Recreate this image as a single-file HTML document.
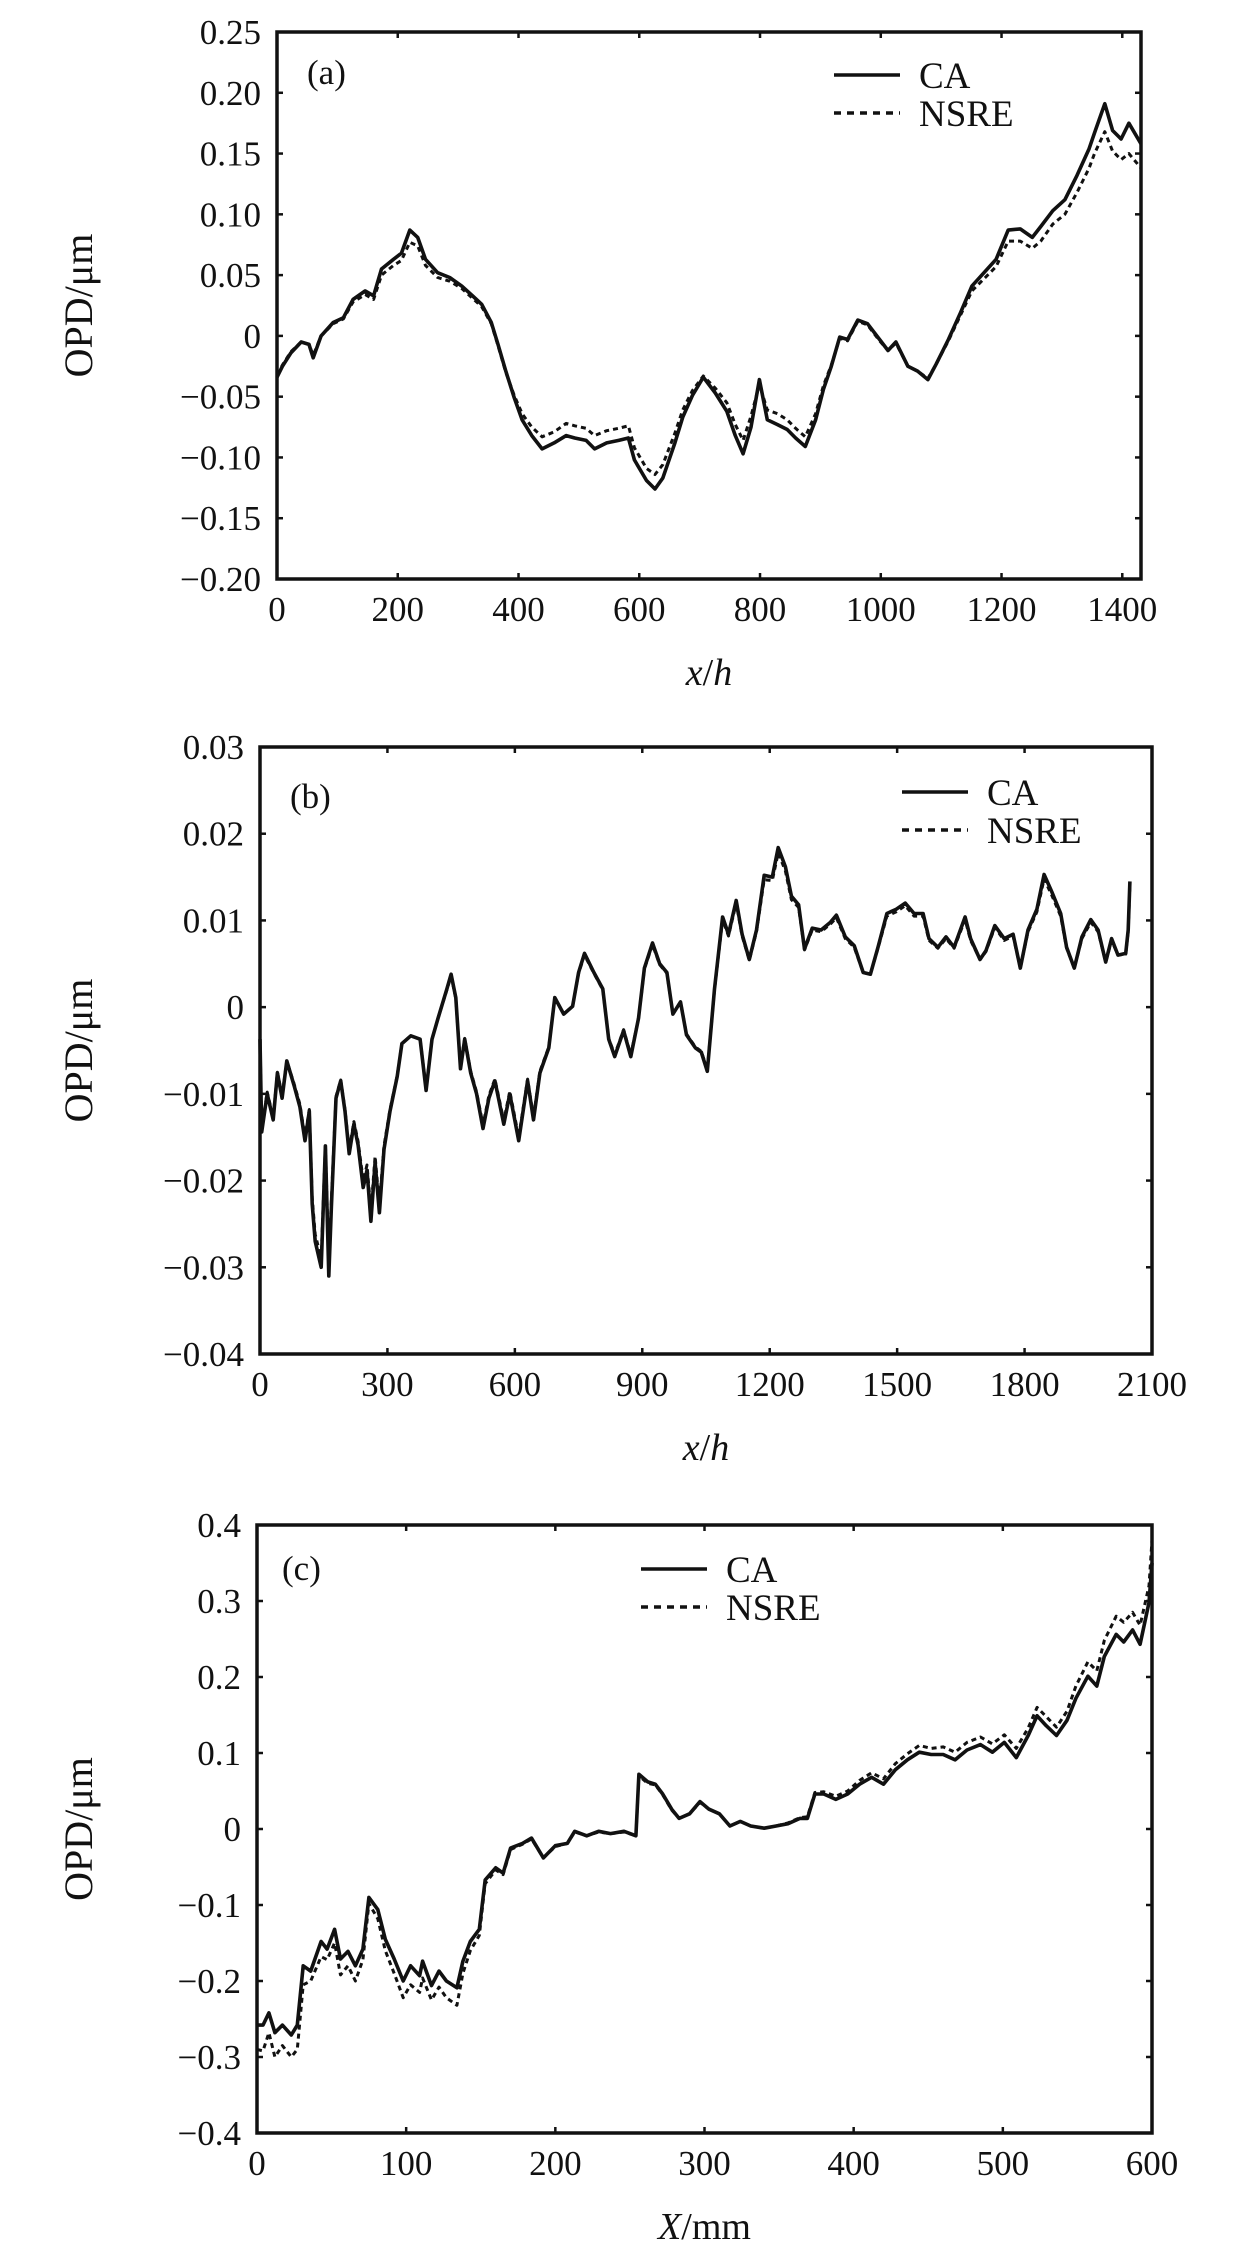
<!DOCTYPE html>
<html><head><meta charset="utf-8"><style>
html,body{margin:0;padding:0;background:#fff;}
svg{display:block;}
text{font-family:"Liberation Serif",serif;fill:#111;}
</style></head><body>
<svg id="fig" width="1260" height="2252" viewBox="0 0 1260 2252" xmlns="http://www.w3.org/2000/svg"></svg>
<script>
// ---- Panel (a) data ----
const aCaX = [0,9,23,40,53,60,73,93,110,126,146,160,173,193,206,220,233,246,266,286,306,326,339,355,366,379,393,406,422,439,459,479,493,512,526,546,566,582,592,612,626,639,659,672,688,706,726,745,759,772,785,799,812,829,845,859,875,892,905,918,932,945,962,978,998,1012,1025,1045,1061,1078,1092,1112,1132,1151,1171,1191,1211,1231,1251,1265,1285,1305,1325,1345,1354,1371,1384,1398,1411,1431];
const aCaY = [-0.034,-0.025,-0.014,-0.005,-0.007,-0.018,0.000,0.011,0.015,0.030,0.037,0.033,0.055,0.063,0.068,0.087,0.081,0.063,0.052,0.048,0.041,0.032,0.026,0.011,-0.007,-0.029,-0.051,-0.069,-0.082,-0.093,-0.088,-0.082,-0.084,-0.086,-0.093,-0.088,-0.086,-0.084,-0.102,-0.119,-0.126,-0.117,-0.088,-0.067,-0.049,-0.034,-0.047,-0.062,-0.082,-0.097,-0.075,-0.036,-0.069,-0.073,-0.077,-0.084,-0.091,-0.069,-0.044,-0.025,-0.001,-0.003,0.013,0.010,-0.003,-0.012,-0.005,-0.025,-0.029,-0.036,-0.023,-0.003,0.019,0.041,0.052,0.063,0.087,0.088,0.081,0.090,0.103,0.112,0.132,0.154,0.167,0.191,0.169,0.162,0.175,0.158];
const aNsX = [0,9,23,40,53,60,73,93,110,126,146,160,173,193,206,220,233,246,266,286,306,326,339,355,366,379,393,406,422,439,459,479,493,512,526,546,566,582,592,612,626,639,659,672,688,706,726,745,759,772,785,799,812,829,845,859,875,892,905,918,932,945,962,978,998,1012,1025,1045,1061,1078,1092,1112,1132,1151,1171,1191,1211,1231,1251,1265,1285,1305,1325,1345,1354,1371,1384,1398,1411,1431];
const aNsY = [-0.032,-0.024,-0.013,-0.005,-0.007,-0.016,0.000,0.010,0.014,0.028,0.034,0.030,0.050,0.058,0.062,0.077,0.074,0.058,0.048,0.045,0.039,0.030,0.024,0.010,-0.008,-0.030,-0.049,-0.064,-0.075,-0.083,-0.079,-0.072,-0.074,-0.076,-0.082,-0.078,-0.076,-0.074,-0.092,-0.109,-0.114,-0.106,-0.080,-0.061,-0.045,-0.033,-0.043,-0.055,-0.073,-0.086,-0.066,-0.040,-0.061,-0.064,-0.069,-0.076,-0.083,-0.064,-0.041,-0.024,-0.002,-0.004,0.012,0.009,-0.004,-0.012,-0.006,-0.025,-0.029,-0.035,-0.023,-0.004,0.017,0.037,0.047,0.057,0.078,0.078,0.072,0.078,0.092,0.100,0.118,0.138,0.150,0.168,0.152,0.145,0.150,0.138];
const aXTicks = [0,200,400,600,800,1000,1200,1400];
const aYTicks = [-0.20,-0.15,-0.10,-0.05,0,0.05,0.10,0.15,0.20,0.25];
const aYLabels = ["\u22120.20","\u22120.15","\u22120.10","\u22120.05","0","0.05","0.10","0.15","0.20","0.25"];

// ---- Panel (b) data ----
const bCaX = [0,4,17,31,41,52,63,80,94,106,116,123,130,144,154,162,168,179,190,200,210,221,231,243,252,261,271,281,292,306,323,334,355,377,391,405,419,440,450,461,472,482,496,510,525,539,553,574,588,609,630,644,659,680,694,715,736,750,764,786,807,821,835,856,873,891,905,924,941,958,972,990,1004,1025,1039,1053,1070,1089,1103,1121,1135,1152,1169,1187,1206,1220,1237,1251,1268,1282,1300,1321,1343,1357,1378,1399,1420,1437,1455,1476,1498,1519,1540,1561,1575,1596,1615,1634,1660,1673,1695,1709,1730,1752,1773,1790,1808,1829,1846,1864,1885,1899,1917,1935,1956,1973,1991,2005,2020,2038,2044,2048];
const bCaY = [-0.0037,-0.0144,-0.010,-0.013,-0.0076,-0.0105,-0.0062,-0.009,-0.0115,-0.0154,-0.012,-0.0227,-0.027,-0.030,-0.016,-0.031,-0.023,-0.0105,-0.0085,-0.012,-0.0169,-0.0135,-0.0159,-0.0208,-0.0188,-0.0247,-0.0179,-0.0237,-0.0164,-0.012,-0.008,-0.0042,-0.0033,-0.0037,-0.0096,-0.0037,-0.0013,0.0021,0.0038,0.0011,-0.0071,-0.0037,-0.0076,-0.010,-0.014,-0.0105,-0.0085,-0.0135,-0.010,-0.0154,-0.0085,-0.013,-0.0076,-0.0047,0.0011,-0.0008,0.0001,0.004,0.0062,0.004,0.0021,-0.0037,-0.0057,-0.0027,-0.0057,-0.0013,0.0045,0.0074,0.005,0.004,-0.0008,0.0006,-0.0032,-0.0047,-0.0052,-0.0074,0.0021,0.0104,0.0084,0.0123,0.0084,0.0055,0.0089,0.0152,0.015,0.0184,0.0162,0.0128,0.0118,0.0067,0.0091,0.0089,0.0098,0.0106,0.0081,0.0071,0.004,0.0038,0.0069,0.0108,0.0113,0.012,0.0108,0.0108,0.0079,0.0069,0.0081,0.0069,0.0104,0.0079,0.0055,0.0065,0.0094,0.0079,0.0084,0.0045,0.0089,0.0113,0.0153,0.0133,0.0108,0.0069,0.0045,0.0081,0.0101,0.0089,0.0052,0.0079,0.006,0.0062,0.0089,0.0145];
const bNsX = [0,4,17,31,41,52,63,80,94,106,116,123,130,144,154,162,168,179,190,200,210,221,231,243,252,261,271,281,292,306,323,334,355,377,391,405,419,440,450,461,472,482,496,510,525,539,553,574,588,609,630,644,659,680,694,715,736,750,764,786,807,821,835,856,873,891,905,924,941,958,972,990,1004,1025,1039,1053,1070,1089,1103,1121,1135,1152,1169,1187,1206,1220,1237,1251,1268,1282,1300,1321,1343,1357,1378,1399,1420,1437,1455,1476,1498,1519,1540,1561,1575,1596,1615,1634,1660,1673,1695,1709,1730,1752,1773,1790,1808,1829,1846,1864,1885,1899,1917,1935,1956,1973,1991,2005,2020,2038,2044,2048];
const bNsY = [-0.0036,-0.0140,-0.0098,-0.0127,-0.0075,-0.0102,-0.0062,-0.0088,-0.0112,-0.0150,-0.0118,-0.0220,-0.0262,-0.0290,-0.0158,-0.0298,-0.0222,-0.0103,-0.0084,-0.0118,-0.0165,-0.0132,-0.0155,-0.0200,-0.0182,-0.0235,-0.0172,-0.0228,-0.0160,-0.0118,-0.0079,-0.0042,-0.0033,-0.0037,-0.0094,-0.0037,-0.0013,0.0020,0.0036,0.0010,-0.0069,-0.0036,-0.0074,-0.0098,-0.0136,-0.0102,-0.0083,-0.0131,-0.0097,-0.0150,-0.0083,-0.0127,-0.0074,-0.0046,0.0011,-0.0008,0.0001,0.0039,0.0060,0.0039,0.0020,-0.0036,-0.0055,-0.0026,-0.0055,-0.0013,0.0044,0.0072,0.0049,0.0039,-0.0008,0.0006,-0.0031,-0.0046,-0.0051,-0.0072,0.0020,0.0101,0.0082,0.0120,0.0082,0.0054,0.0087,0.0147,0.0146,0.0178,0.0157,0.0124,0.0115,0.0066,0.0089,0.0087,0.0096,0.0103,0.0079,0.0069,0.0040,0.0038,0.0068,0.0105,0.0110,0.0117,0.0105,0.0105,0.0077,0.0068,0.0079,0.0068,0.0101,0.0077,0.0055,0.0064,0.0092,0.0077,0.0082,0.0045,0.0087,0.0110,0.0148,0.0129,0.0105,0.0068,0.0045,0.0079,0.0098,0.0087,0.0052,0.0077,0.0060,0.0061,0.0087,0.0140];
const bXTicks = [0,300,600,900,1200,1500,1800,2100];
const bYTicks = [-0.04,-0.03,-0.02,-0.01,0,0.01,0.02,0.03];
const bYLabels = ["\u22120.04","\u22120.03","\u22120.02","\u22120.01","0","0.01","0.02","0.03"];

// ---- Panel (c) data ----
const cCaX = [0,4,8,12,17,23,27,31,36,43,47,52,56,61,66,71,75,81,86,92,98,103,109,111,117,122,127,134,138,143,149,153,160,165,170,178,184,192,200,208,213,221,229,237,246,254,256,262,267,272,278,283,290,297,303,310,317,324,331,340,348,356,364,369,374,380,388,396,404,412,420,428,436,444,452,460,468,476,485,493,501,509,517,523,529,536,543,549,557,563,568,576,581,587,592,598,600];
const cCaY = [-0.258,-0.258,-0.242,-0.268,-0.258,-0.271,-0.258,-0.180,-0.187,-0.148,-0.158,-0.132,-0.171,-0.161,-0.180,-0.158,-0.090,-0.106,-0.145,-0.171,-0.200,-0.180,-0.193,-0.174,-0.206,-0.187,-0.200,-0.209,-0.174,-0.148,-0.132,-0.067,-0.051,-0.058,-0.025,-0.019,-0.012,-0.038,-0.022,-0.019,-0.003,-0.009,-0.003,-0.006,-0.003,-0.009,0.072,0.062,0.059,0.046,0.026,0.014,0.020,0.036,0.026,0.020,0.004,0.010,0.004,0.001,0.004,0.007,0.014,0.014,0.046,0.046,0.039,0.046,0.059,0.068,0.059,0.078,0.091,0.101,0.098,0.098,0.091,0.104,0.111,0.101,0.114,0.094,0.123,0.149,0.136,0.123,0.143,0.172,0.201,0.188,0.227,0.256,0.246,0.262,0.243,0.298,0.350];
const cNsX = [0,4,8,12,17,23,27,31,36,43,47,52,56,61,66,71,75,81,86,92,98,103,109,111,117,122,127,134,138,143,149,153,160,165,170,178,184,192,200,208,213,221,229,237,246,254,256,262,267,272,278,283,290,297,303,310,317,324,331,340,348,356,364,369,374,380,388,396,404,412,420,428,436,444,452,460,468,476,485,493,501,509,517,523,529,536,543,549,557,563,568,576,581,587,592,598,600];
const cNsY = [-0.290,-0.292,-0.268,-0.300,-0.285,-0.300,-0.290,-0.205,-0.200,-0.168,-0.172,-0.150,-0.192,-0.180,-0.200,-0.172,-0.098,-0.118,-0.160,-0.190,-0.222,-0.205,-0.215,-0.196,-0.225,-0.208,-0.222,-0.232,-0.190,-0.160,-0.140,-0.072,-0.054,-0.060,-0.027,-0.020,-0.013,-0.038,-0.023,-0.019,-0.004,-0.009,-0.004,-0.006,-0.004,-0.009,0.070,0.060,0.058,0.045,0.025,0.014,0.020,0.035,0.026,0.020,0.004,0.010,0.004,0.001,0.004,0.008,0.015,0.016,0.048,0.049,0.043,0.050,0.064,0.074,0.066,0.086,0.099,0.110,0.106,0.108,0.101,0.114,0.121,0.112,0.124,0.106,0.133,0.160,0.148,0.134,0.155,0.188,0.220,0.208,0.248,0.280,0.272,0.285,0.268,0.320,0.380];
const cXTicks = [0,100,200,300,400,500,600];
const cYTicks = [-0.4,-0.3,-0.2,-0.1,0,0.1,0.2,0.3,0.4];
const cYLabels = ["\u22120.4","\u22120.3","\u22120.2","\u22120.1","0","0.1","0.2","0.3","0.4"];

const NS = "http://www.w3.org/2000/svg";
const svg = document.getElementById('fig');
function mk(tag, attrs, parent) {
  const e = document.createElementNS(NS, tag);
  for (const k in attrs) e.setAttribute(k, attrs[k]);
  (parent || svg).appendChild(e);
  return e;
}

function panel(cfg) {
  const g = mk('g', {});
  
  
  const L = cfg.L, R = cfg.R, T = cfg.T, B = cfg.B;
  const sx = v => L + (v - cfg.x0) / (cfg.x1 - cfg.x0) * (R - L);
  const sy = v => B - (v - cfg.y0) / (cfg.y1 - cfg.y0) * (B - T);
  cfg.xt.forEach(v => {
    const x = sx(v);
    const t1 = mk('line', {x1:x, y1:B, x2:x, y2:B-6, stroke:'#111', 'stroke-width':2.5}, g);
    
    
    mk('line', {x1:x, y1:T, x2:x, y2:T+6, stroke:'#111', 'stroke-width':2.5}, g);
    const tx = mk('text', {x:x, y:B+42, 'text-anchor':'middle', 'font-size':35}, g);
    tx.textContent = String(v);
    
    
  });
  cfg.yt.forEach((v, i) => {
    const y = sy(v);
    const t1 = mk('line', {x1:L, y1:y, x2:L+6, y2:y, stroke:'#111', 'stroke-width':2.5}, g);
    
    
    mk('line', {x1:R, y1:y, x2:R-6, y2:y, stroke:'#111', 'stroke-width':2.5}, g);
    const tx = mk('text', {x:L-16, y:y+12, 'text-anchor':'end', 'font-size':35}, g);
    tx.textContent = cfg.yl[i];
    
    
  });
  const mkPath = (xs, ys) => xs.map((x, i) => (i ? 'L' : 'M') + sx(x).toFixed(1) + ' ' + sy(ys[i]).toFixed(1)).join(' ');
  const ns = mk('path', {d:mkPath(cfg.nx, cfg.ny), fill:'none', stroke:'#111', 'stroke-width':3, 'stroke-dasharray':'5 4', 'stroke-linejoin':'round'}, g);
  
  
  const ca = mk('path', {d:mkPath(cfg.cx, cfg.cy), fill:'none', stroke:'#111', 'stroke-width':3.6, 'stroke-linejoin':'round'}, g);
  
  
  const fr = mk('rect', {x:L, y:T, width:R-L, height:B-T, fill:'none', stroke:'#111', 'stroke-width':3.5}, g);
  
  
  const tg = mk('text', {x:cfg.tagX, y:cfg.tagY, 'font-size':35}, g);
  tg.textContent = '(' + cfg.id + ')';
  
  
  const lg = mk('g', {}, g);
  
  
  mk('line', {x1:cfg.lgX, y1:cfg.lgY, x2:cfg.lgX+66, y2:cfg.lgY, stroke:'#111', 'stroke-width':3.5}, lg);
  mk('line', {x1:cfg.lgX, y1:cfg.lgY+38, x2:cfg.lgX+66, y2:cfg.lgY+38, stroke:'#111', 'stroke-width':3.5, 'stroke-dasharray':'7 6'}, lg);
  const l1 = mk('text', {x:cfg.lgX+85, y:cfg.lgY+13, 'font-size':37}, lg);
  l1.textContent = 'CA';
  
  
  const l2 = mk('text', {x:cfg.lgX+85, y:cfg.lgY+51, 'font-size':37}, lg);
  l2.textContent = 'NSRE';
  
  
  const yt = mk('text', {x:0, y:0, 'font-size':40, 'text-anchor':'middle', transform:'translate(92,' + ((T+B)/2) + ') rotate(-90)'}, g);
  yt.textContent = 'OPD/\u03bcm';
  
  
  const xt = mk('text', {x:(L+R)/2, y:B+106, 'font-size':38, 'text-anchor':'middle'}, g);
  xt.innerHTML = cfg.xtitle;
  
  
}

panel({id:'a', L:277, R:1141, T:32, B:579, x0:0, x1:1431, y0:-0.20, y1:0.25,
  xt:aXTicks, yt:aYTicks, yl:aYLabels, cx:aCaX, cy:aCaY, nx:aNsX, ny:aNsY,
  tagX:307, tagY:84, lgX:834, lgY:75, xtitle:'<tspan font-style="italic">x</tspan>/<tspan font-style="italic">h</tspan>'});
panel({id:'b', L:260, R:1152, T:747, B:1354, x0:0, x1:2100, y0:-0.04, y1:0.03,
  xt:bXTicks, yt:bYTicks, yl:bYLabels, cx:bCaX, cy:bCaY, nx:bNsX, ny:bNsY,
  tagX:290, tagY:808, lgX:902, lgY:792, xtitle:'<tspan font-style="italic">x</tspan>/<tspan font-style="italic">h</tspan>'});
panel({id:'c', L:257, R:1152, T:1525, B:2133, x0:0, x1:600, y0:-0.4, y1:0.4,
  xt:cXTicks, yt:cYTicks, yl:cYLabels, cx:cCaX, cy:cCaY, nx:cNsX, ny:cNsY,
  tagX:282, tagY:1580, lgX:641, lgY:1569, xtitle:'<tspan font-style="italic">X</tspan>/mm'});
</script>
</body></html>
